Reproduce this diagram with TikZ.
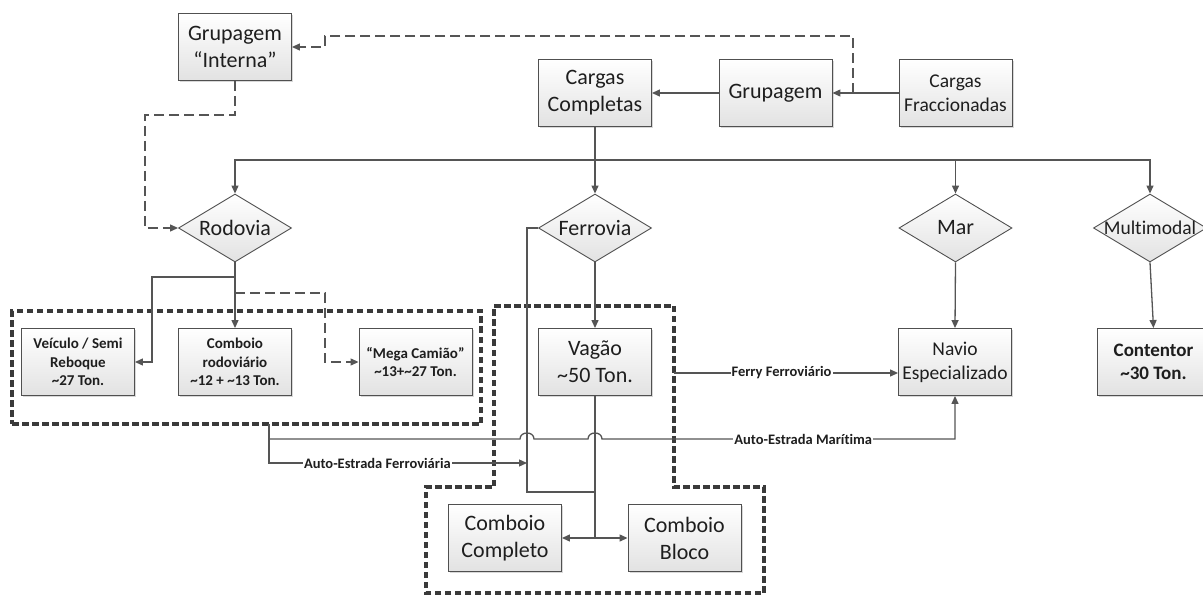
\documentclass[tikz,border=0pt]{standalone}
\usepackage{fontspec}
\setmainfont{Carlito}[Ligatures=NoCommon]
\usetikzlibrary{shapes.geometric,arrows.meta,shadows}
\definecolor{ln}{HTML}{555555}
\definecolor{bd}{HTML}{505050}
\definecolor{txt}{HTML}{1E1E1E}
\definecolor{grp}{HTML}{3A3A3A}
\definecolor{boxbot}{HTML}{E2E2E2}
\newcommand\fsBig{\fontsize{22}{27}\selectfont}
\newcommand\fsMid{\fontsize{19.5}{24}\selectfont}
\newcommand\fsSmB{\fontsize{15}{18.5}\selectfont\bfseries}
\newcommand\fsConB{\fontsize{19}{23}\selectfont\bfseries}
\newcommand\fsLbl{\fontsize{14.5}{17}\selectfont\bfseries}
\begin{document}
\begin{tikzpicture}[x=1pt,y=-1pt,
  box/.style={draw=bd, line width=0.9pt, top color=white, bottom color=boxbot,
    minimum width=113pt, minimum height=67pt, align=center, inner sep=2pt, text=txt,
    drop shadow={shadow xshift=1.5pt, shadow yshift=-1.5pt, fill=black!30, opacity=0.5}},
  dia/.style={shape=diamond, draw=bd, line width=0.9pt, top color=white, bottom color=boxbot,
    minimum width=113pt, minimum height=68pt, inner sep=0pt, text=txt},
  conn/.style={draw=ln, line width=1.3pt, -{Triangle[length=8pt,width=7pt]}},
  plain/.style={draw=ln, line width=1.3pt},
  dconn/.style={draw=ln, line width=1.3pt, dash pattern=on 10pt off 5pt, -{Triangle[length=8pt,width=7pt]}},
  dbl/.style={draw=ln, line width=1.3pt, {Triangle[length=8pt,width=7pt]}-{Triangle[length=8pt,width=7pt]}},
  grpline/.style={draw=grp, line width=3.4pt, dash pattern=on 6.5pt off 3.5pt},
  lbl/.style={fill=white, inner sep=1pt, font=\fsLbl, text=txt}]
\useasboundingbox (0,0) rectangle (1203,596);

% top row
\node[box,font=\fsBig] (gi) at (235,47) {Grupagem\\“Interna”};
\node[box,font=\fsBig] (cc) at (595,93) {Cargas\\Completas};
\node[box,font=\fsBig] (gr) at (775.5,93) {Grupagem};
\node[box,font=\fsMid] (cf) at (955.5,93) {Cargas\\Fraccionadas};

% diamonds
\node[dia] (rod) at (235,228) {\makebox[0pt]{\fsBig Rodovia}};
\node[dia] (fer) at (595,228) {\makebox[0pt]{\fsBig Ferrovia}};
\node[dia] (mar) at (955.5,228) {\makebox[0pt]{\fsBig Mar}};
\node[dia] (mul) at (1150,228) {\makebox[0pt]{\fsMid Multimodal}};

% second row boxes
\node[box,font=\fsSmB] (vei) at (78,362) {Veículo / Semi\\Reboque\\\textasciitilde27 Ton.};
\node[box,font=\fsSmB] (cro) at (235,362) {Comboio\\rodoviário\\\textasciitilde12 + \textasciitilde13 Ton.};
\node[box,font=\fsSmB] (mega) at (415.5,362) {“Mega Camião”\\\textasciitilde13+\textasciitilde27 Ton.};
\node[box,font=\fsBig] (vag) at (595,362) {Vagão\\\textasciitilde50 Ton.};
\node[box,font=\fsMid] (nav) at (955,362) {Navio\\Especializado};
\node[box,font=\fsConB] (con) at (1153.5,362) {Contentor\\\textasciitilde30 Ton.};

% bottom boxes
\node[box,font=\fsBig] (cco) at (505,538) {Comboio\\Completo};
\node[box,font=\fsBig] (cbl) at (684.5,538) {Comboio\\Bloco};

% group boxes
\node[grpline, minimum width=469pt, minimum height=113pt, inner sep=0pt] (rg) at (246.5,367.5) {};
\draw[grpline] (494,306) -- (674,306) -- (674,487) -- (764,487) -- (764,593) -- (426,593) -- (426,487) -- (494,487) -- cycle;

% top connectors
\draw[conn] (cf) -- (gr);
\draw[conn] (gr) -- (cc);
\coordinate (fj) at (853,93);
\draw[dconn] (fj) -- (853,36) -- (325,36) -- (325,47) -- (gi.east);
\draw[dconn] (gi.south) -- (235,115) -- (145,115) -- (145,228) -- (rod.west);

% bus
\coordinate (bus) at (595,160);
\draw[conn] (cc.south) -- (fer.north);
\draw[conn] (bus) -| (rod.north);
\draw[conn] (bus) -| (mar.north);
\draw[conn] (bus) -| (mul.north);

% rodovia branches
\coordinate (rj1) at (235,277);
\coordinate (rj2) at (235,293);
\draw[conn] (rod.south) -- (cro.north);
\draw[conn] (rj1) -- (152,277) -- (152,362) -- (vei.east);
\draw[dconn] (rj2) -- (325,293) -- (325,362) -- (mega.west);

% ferrovia
\draw[conn] (fer.south) -- (vag.north);
\coordinate (fl) at (527,228);
\coordinate (fb) at (527,492);
\coordinate (vj) at (595,538);
\draw[plain] (fer.west) -- (fl) -- (fb) -- (595,492);
\draw[plain] (vag.south) -- (vj);
\draw[dbl] (cco.east) -- (cbl.west);

% mar / multimodal
\draw[conn] (mar.south) -- (nav.north);
\draw[conn] (mul.south) -- (con.north);

% ferry
\coordinate (fr) at (674,373);
\draw[conn] (fr) -- node[lbl,pos=0.48]{Ferry Ferroviário} (nav.west |- fr);

% auto-estradas
\coordinate (rb) at (269,424);
\draw[conn] (rb) -- (269,463) -- node[lbl,pos=0.42]{Auto-Estrada Ferroviária} (fb |- 0,463);
\draw[conn] (269,439) -- (520,439) .. controls (520,431) and (534,431) .. (534,439)
  -- (588,439) .. controls (588,431) and (602,431) .. (602,439)
  -- node[lbl,pos=0.57]{Auto-Estrada Marítima} (955,439) -- (nav.south);
\end{tikzpicture}
\end{document}
